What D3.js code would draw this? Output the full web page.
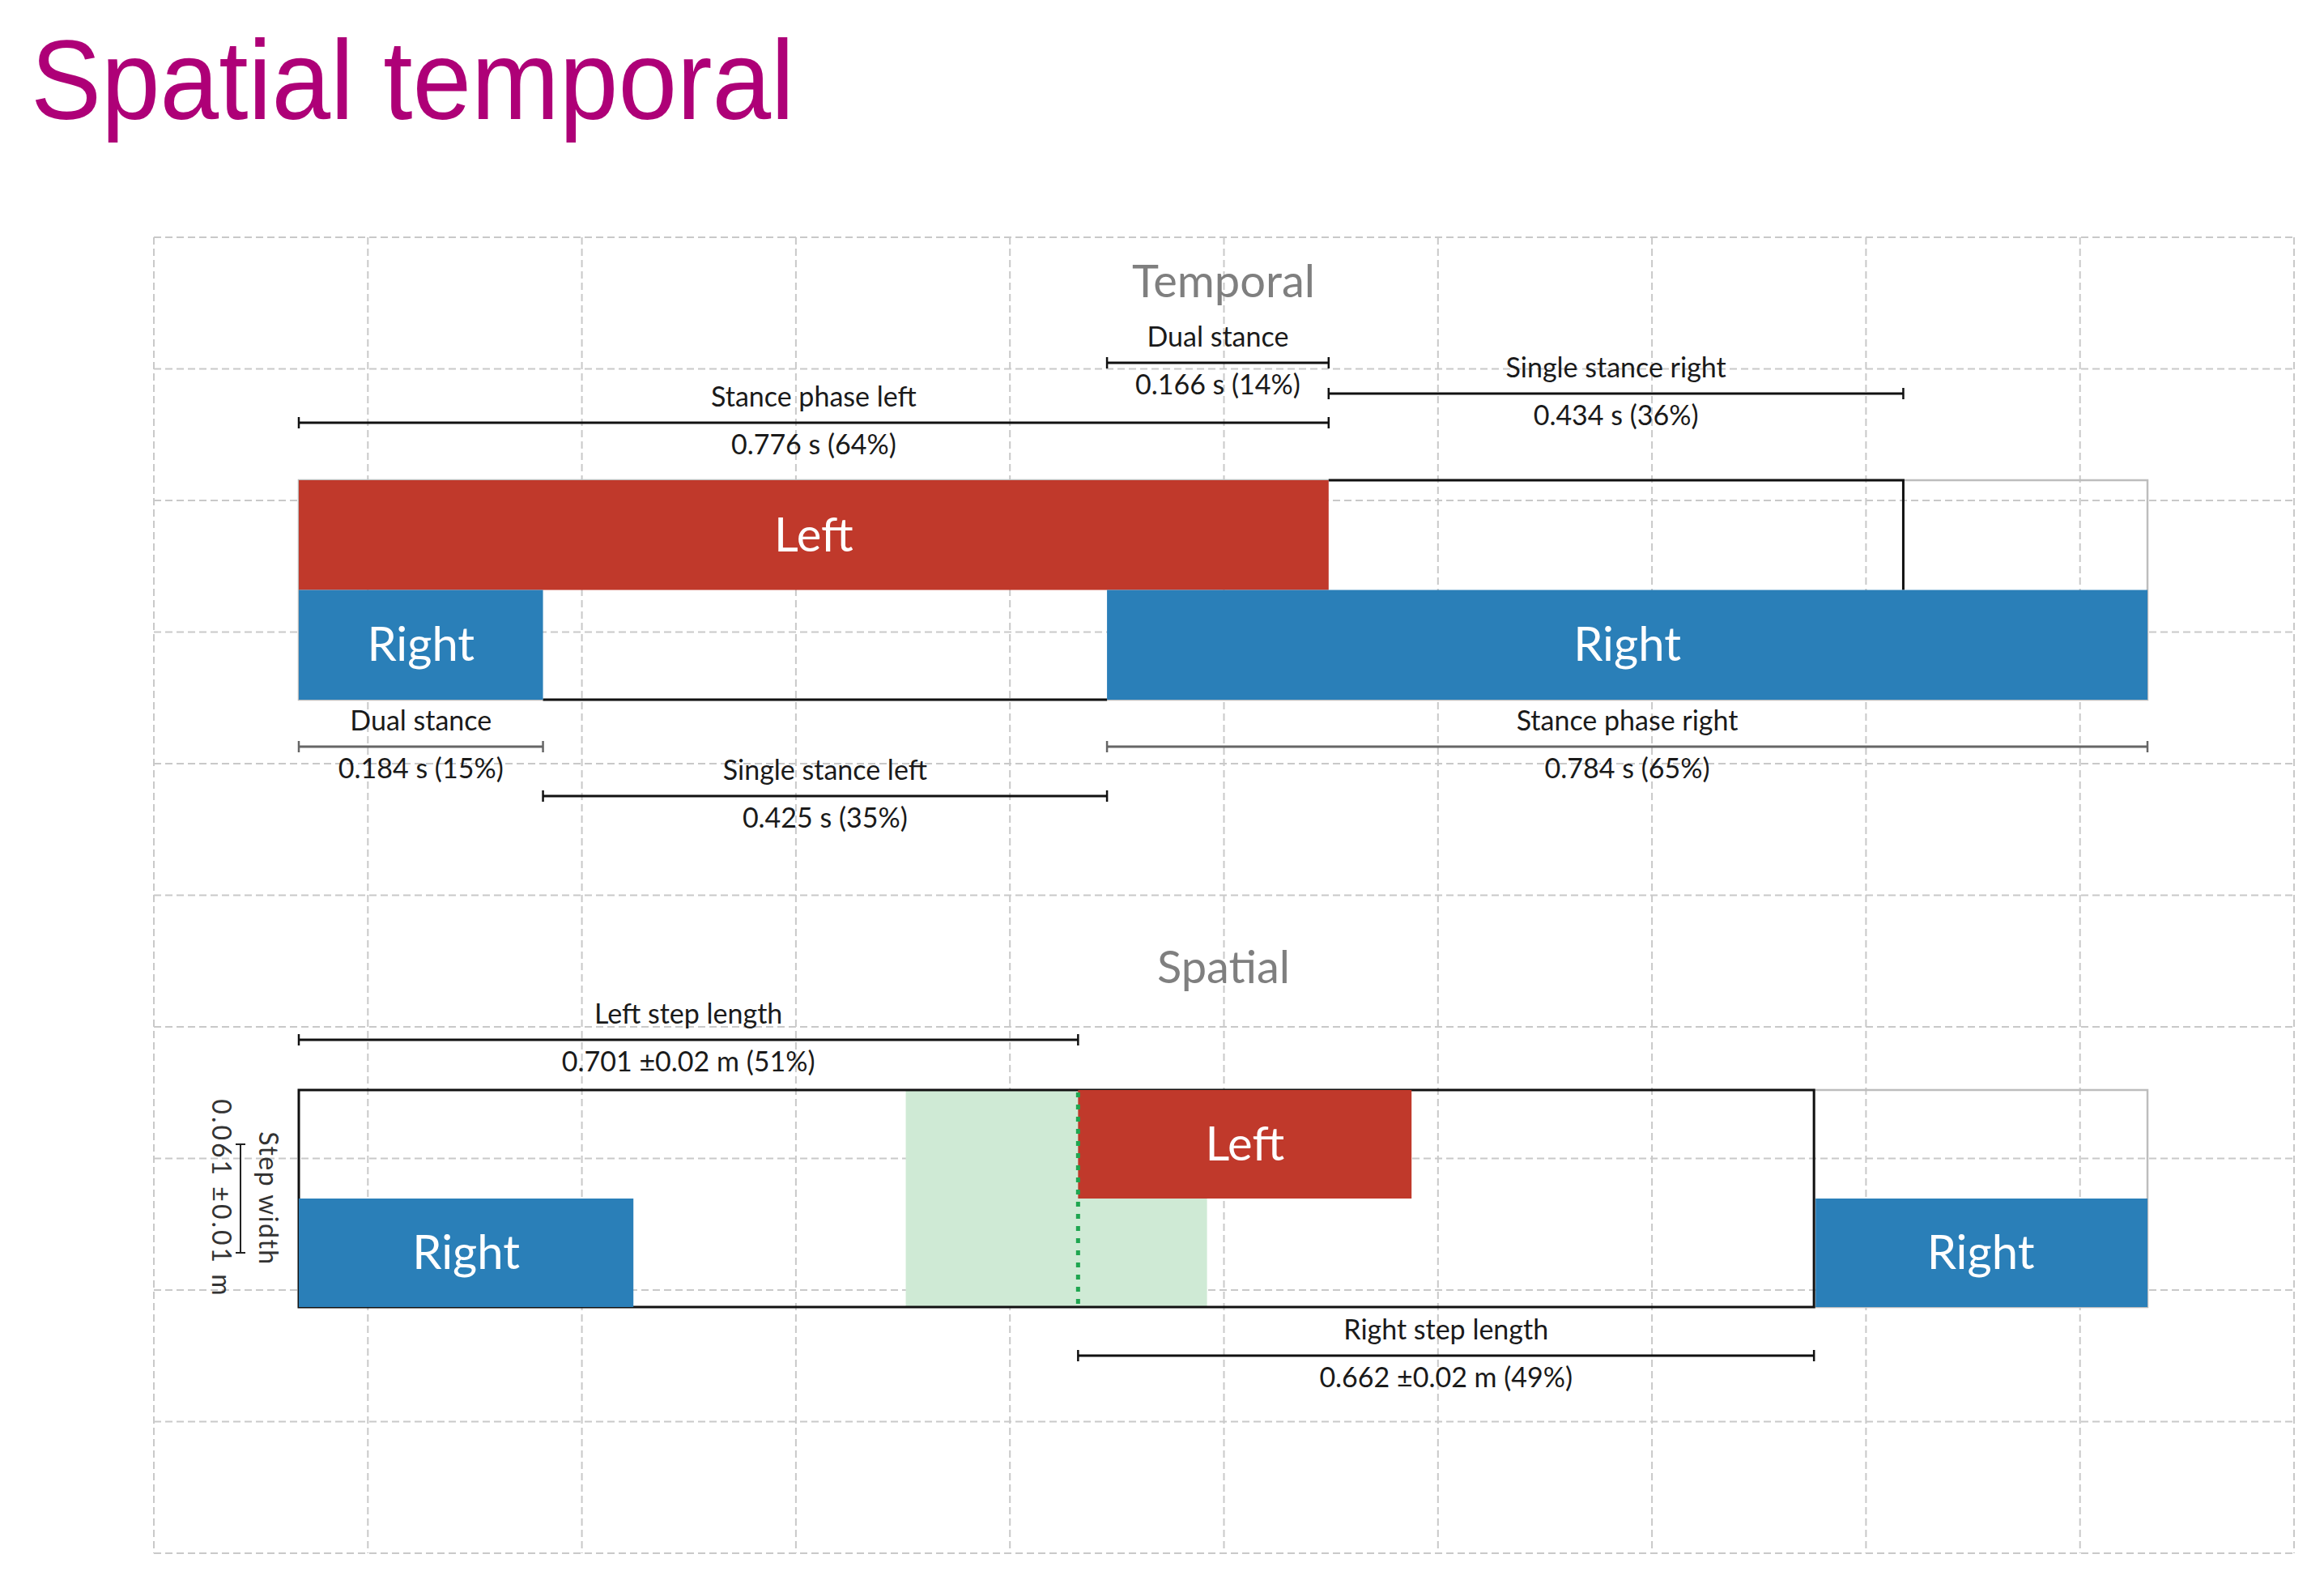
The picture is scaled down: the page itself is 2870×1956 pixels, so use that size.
<!DOCTYPE html>
<html lang="en">
	<head>
		<meta charset="utf-8">
		<title>Spatial temporal</title>
		<script src="https://cdnjs.cloudflare.com/ajax/libs/d3/7.8.5/d3.min.js"></script>
		<style type="text/css">
			body { margin: 0; background: #fff; }
			text { font-family: Lato, "Open Sans", sans-serif; }
		</style>
	</head>
	<body>
		<script type="text/javascript">

			//Temporal data (seconds from left heel strike)
			var tempFoot  = ["Left", "Right", "Right"];
			var tempStart = [0, 0, 0.609];
			var tempEnd   = [0.776, 0.184, 1.393];
			var tempSwing = [["Left", 0.776, 1.209], ["Right", 0.184, 0.609]];
			var tempCycle = [0, 1.393];

			var tAnnLabel = ["Stance phase left", "Dual stance", "Single stance right", "Dual stance", "Single stance left", "Stance phase right"];
			var tAnnValue = ["0.776 s (64%)", "0.166 s (14%)", "0.434 s (36%)", "0.184 s (15%)", "0.425 s (35%)", "0.784 s (65%)"];
			var tAnnStart = [0, 0.609, 0.776, 0, 0.184, 0.609];
			var tAnnEnd   = [0.776, 0.776, 1.209, 0.184, 0.609, 1.393];

			//Spatial data (metres)
			var spFoot  = ["Right", "Left", "Right"];
			var spStart = [0, 0.701, 1.363];
			var spEnd   = [0.301, 1.001, 1.663];
			var spStride = [0, 1.363];
			var spNormal = [0.546, 0.817];
			var spStep  = 0.701;

			var sAnnLabel = ["Left step length", "Right step length"];
			var sAnnValue = ["0.701 \u00b10.02 m (51%)", "0.662 \u00b10.02 m (49%)"];
			var sAnnStart = [0, 0.701];
			var sAnnEnd   = [0.701, 1.363];

			var stepWidthLabel = "Step width";
			var stepWidthValue = "0.061 \u00b10.01 m";

			//Width and height
			var w = 2870;
			var h = 1956;

			var red = "#c0392b";
			var blue = "#2a7fb8";

			var svg = d3.select("body")
						.append("svg")
						.attr("width", w)
						.attr("height", h);

			svg.append("rect").attr("width", w).attr("height", h).attr("fill", "#fff");

			//Title
			svg.append("text")
				.attr("x", 38)
				.attr("y", 147)
				.attr("textLength", 943)
				.attr("lengthAdjust", "spacingAndGlyphs")
				.style("font-family", "'Liberation Sans', Arial, sans-serif")
				.style("font-size", "140px")
				.style("fill", "#ae0077")
				.text("Spatial temporal");

			//Background grid 10 x 10
			var gx = d3.scaleLinear().domain([0, 10]).range([190, 2833]);
			var gy = d3.scaleLinear().domain([0, 10]).range([293, 1918]);
			var grid = svg.append("g")
				.style("stroke", "#c9c9c9")
				.style("stroke-width", 2)
				.style("stroke-dasharray", "9,5");
			grid.selectAll("line.v").data(d3.range(11)).enter().append("line")
				.attr("x1", gx).attr("x2", gx).attr("y1", gy(0)).attr("y2", gy(10));
			grid.selectAll("line.h").data(d3.range(11)).enter().append("line")
				.attr("y1", gy).attr("y2", gy).attr("x1", gx(0)).attr("x2", gx(10));

			//Scales
			var xT = d3.scaleLinear().domain([0, 1.393]).range([369, 2652]);
			var xS = d3.scaleLinear().domain([0, 1.663]).range([369, 2652]);
			var laneT = d3.scaleBand().domain(["Left", "Right"]).range([593, 864]);
			var laneS = d3.scaleBand().domain(["Left", "Right"]).range([1346, 1614]);

			//Dimension line with end caps, label above and value below
			const dimension = (x1, x2, y, label, value, col) => {
				var g = svg.append("g");
				g.append("line").attr("x1", x1).attr("x2", x2).attr("y1", y).attr("y2", y)
					.style("stroke", col).style("stroke-width", 3);
				[x1, x2].forEach(function(x) {
					g.append("line").attr("x1", x).attr("x2", x).attr("y1", y - 7).attr("y2", y + 7)
						.style("stroke", col).style("stroke-width", 2.5);
				});
				g.append("text").attr("x", (x1 + x2) / 2).attr("y", y - 20)
					.attr("text-anchor", "middle").style("font-size", "34px").style("fill", "#1a1a1a")
					.text(label);
				g.append("text").attr("x", (x1 + x2) / 2).attr("y", y + 39)
					.attr("text-anchor", "middle").style("font-size", "34px").style("fill", "#1a1a1a")
					.text(value);
			}

			//Section titles
			svg.append("text").attr("x", 1511).attr("y", 367).attr("text-anchor", "middle")
				.style("font-size", "56px").style("fill", "#7f7f7f").text("Temporal");
			svg.append("text").attr("x", 1511).attr("y", 1214).attr("text-anchor", "middle")
				.style("font-size", "56px").style("fill", "#7f7f7f").text("Spatial");

			// ---------- Temporal ----------
			svg.append("rect")
				.attr("x", xT(tempCycle[0])).attr("y", laneT("Left"))
				.attr("width", xT(tempCycle[1]) - xT(tempCycle[0])).attr("height", laneT.bandwidth() * 2)
				.style("fill", "none").style("stroke", "#bdbdbd").style("stroke-width", 2.5);

			//Swing phases: open outline (top + end for upper lane, bottom for lower lane)
			svg.selectAll("path.swing").data(tempSwing).enter().append("path")
				.attr("d", function(d) {
					var y0 = laneT(d[0]), y1 = y0 + laneT.bandwidth();
					if (d[0] == "Left") {
						return "M" + xT(d[1]) + "," + y0 + "H" + xT(d[2]) + "V" + y1;
					}
					return "M" + xT(d[1]) + "," + y1 + "H" + xT(d[2]);
				})
				.style("fill", "none").style("stroke", "#111").style("stroke-width", 3);

			var tBars = svg.selectAll("g.tbar").data(tempFoot).enter().append("g");
			tBars.append("rect")
				.attr("x", function(d, i) { return xT(tempStart[i]); })
				.attr("y", function(d) { return laneT(d); })
				.attr("width", function(d, i) { return xT(tempEnd[i]) - xT(tempStart[i]); })
				.attr("height", laneT.bandwidth())
				.style("fill", function(d) { return d == "Left" ? red : blue; });
			tBars.append("text")
				.attr("x", function(d, i) { return (xT(tempStart[i]) + xT(tempEnd[i])) / 2; })
				.attr("y", function(d) { return laneT(d) + laneT.bandwidth() / 2 + 20; })
				.attr("text-anchor", "middle")
				.style("font-size", "58px").style("fill", "#fff")
				.text(function(d) { return d; });

			var tAnnY = [522, 448, 486, 922, 983, 922];
			var tAnnCol = ["#111", "#111", "#111", "#666", "#111", "#666"];
			tAnnLabel.forEach(function(lab, i) {
				dimension(xT(tAnnStart[i]), xT(tAnnEnd[i]), tAnnY[i], lab, tAnnValue[i], tAnnCol[i]);
			});

			// ---------- Spatial ----------
			svg.append("rect")
				.attr("x", xS(spNormal[0])).attr("y", laneS("Left"))
				.attr("width", xS(spNormal[1]) - xS(spNormal[0])).attr("height", laneS.bandwidth() * 2)
				.style("fill", "#cfead5");

			svg.append("rect")
				.attr("x", xS(spStride[1])).attr("y", laneS("Left"))
				.attr("width", xS(spEnd[2]) - xS(spStride[1])).attr("height", laneS.bandwidth() * 2)
				.style("fill", "none").style("stroke", "#bdbdbd").style("stroke-width", 2.5);

			svg.append("rect")
				.attr("x", xS(spStride[0])).attr("y", laneS("Left"))
				.attr("width", xS(spStride[1]) - xS(spStride[0])).attr("height", laneS.bandwidth() * 2)
				.style("fill", "none").style("stroke", "#111").style("stroke-width", 3);

			var sBars = svg.selectAll("g.sbar").data(spFoot).enter().append("g");
			sBars.append("rect")
				.attr("x", function(d, i) { return xS(spStart[i]) + (i == 2 ? 2 : 0); })
				.attr("y", function(d) { return laneS(d); })
				.attr("width", function(d, i) { return xS(spEnd[i]) - xS(spStart[i]) - (i == 2 ? 2 : 0); })
				.attr("height", laneS.bandwidth())
				.style("fill", function(d) { return d == "Left" ? red : blue; });
			sBars.append("text")
				.attr("x", function(d, i) { return (xS(spStart[i]) + xS(spEnd[i])) / 2; })
				.attr("y", function(d) { return laneS(d) + laneS.bandwidth() / 2 + 20; })
				.attr("text-anchor", "middle")
				.style("font-size", "58px").style("fill", "#fff")
				.text(function(d) { return d; });

			//Left heel strike marker
			svg.append("line")
				.attr("x1", xS(spStep)).attr("x2", xS(spStep))
				.attr("y1", laneS("Left") + 3).attr("y2", laneS("Right") + laneS.bandwidth())
				.style("stroke", "#1fa650").style("stroke-width", 5).style("stroke-dasharray", "6,9");

			sAnnLabel.forEach(function(lab, i) {
				dimension(xS(sAnnStart[i]), xS(sAnnEnd[i]), i == 0 ? 1284 : 1674, lab, sAnnValue[i], "#111");
			});

			//Step width
			var yL = laneS("Left") + laneS.bandwidth() / 2;
			var yR = laneS("Right") + laneS.bandwidth() / 2;
			svg.append("line").attr("x1", 297).attr("x2", 297).attr("y1", yL).attr("y2", yR)
				.style("stroke", "#222").style("stroke-width", 2);
			[yL, yR].forEach(function(y) {
				svg.append("line").attr("x1", 291).attr("x2", 303).attr("y1", y).attr("y2", y)
					.style("stroke", "#222").style("stroke-width", 2);
			});
			svg.append("text")
				.attr("transform", "translate(320," + ((yL + yR) / 2) + ") rotate(90)")
				.attr("text-anchor", "middle")
				.style("font-size", "32px").style("letter-spacing", "1.5px").style("fill", "#333")
				.text(stepWidthLabel);
			svg.append("text")
				.attr("transform", "translate(262," + ((yL + yR) / 2) + ") rotate(90)")
				.attr("text-anchor", "middle")
				.style("font-size", "32px").style("letter-spacing", "3px").style("fill", "#333")
				.text(stepWidthValue);

		</script>
	</body>
</html>
